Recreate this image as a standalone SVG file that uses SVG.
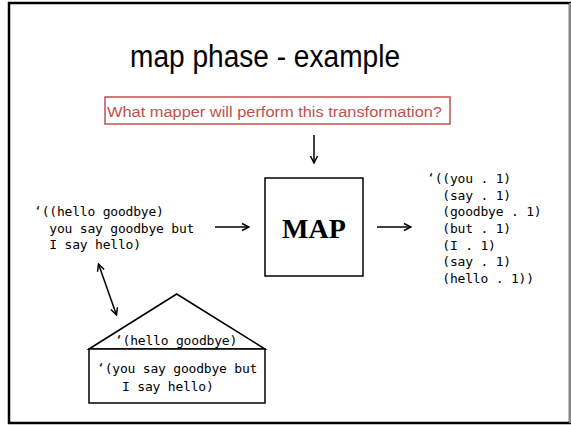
<svg xmlns="http://www.w3.org/2000/svg" width="571" height="426" viewBox="0 0 571 426">
  <style>
    .title { font-family: "Liberation Sans", Arial, sans-serif; font-size: 31px; fill: #000; }
    .note { font-family: "Liberation Sans", Arial, sans-serif; font-size: 15.5px; fill: #c0504d; }
    .code { font-family: "DejaVu Sans Mono", "Liberation Mono", monospace; font-size: 13px; letter-spacing: -0.2px; fill: #000; white-space: pre; }
    .box { fill: #fff; stroke: #000; stroke-width: 1.5; }
    .line { fill: none; stroke: #000; stroke-width: 1.5; }
    .map { font-family: "Liberation Serif", "Times New Roman", serif; font-size: 28px; font-weight: bold; fill: #000; }
  </style>
  <defs>
    <marker id="head" viewBox="0 0 10 10" refX="9" refY="5" markerWidth="10" markerHeight="10" markerUnits="userSpaceOnUse" orient="auto-start-reverse">
      <polyline points="2,1.5 9,5 2,8.5" fill="none" stroke="#000" stroke-width="1.5"/>
    </marker>
  </defs>

  <!-- slide frame -->
  <rect x="9" y="3" width="561" height="420" fill="#fff" stroke="#000" stroke-width="2.5"/>
  <line x1="570" y1="3" x2="570" y2="423" stroke="#888" stroke-width="2"/>

  <text class="title" x="130" y="67" textLength="270" lengthAdjust="spacingAndGlyphs">map phase - example</text>

  <g id="question">
    <rect x="105" y="97" width="345" height="27" fill="#fff" stroke="#c0504d" stroke-width="1.5"/>
    <text class="note" x="107" y="117" textLength="335" lengthAdjust="spacingAndGlyphs">What mapper will perform this transformation?</text>
  </g>

  <g id="map">
    <rect class="box" x="265" y="178" width="98" height="98"/>
    <text class="map" x="314" y="238" text-anchor="middle">MAP</text>
  </g>

  <g id="input">
    <text class="code" x="34" y="216">‘((hello goodbye)</text>
    <text class="code" x="34" y="233">  you say goodbye but</text>
    <text class="code" x="34" y="249">  I say hello)</text>
  </g>

  <g id="output">
    <text class="code" x="427" y="183">‘((you . 1)</text>
    <text class="code" x="427" y="199.5">  (say . 1)</text>
    <text class="code" x="427" y="216">  (goodbye . 1)</text>
    <text class="code" x="427" y="233">  (but . 1)</text>
    <text class="code" x="427" y="249.5">  (I . 1)</text>
    <text class="code" x="427" y="266">  (say . 1)</text>
    <text class="code" x="427" y="283">  (hello . 1))</text>
  </g>

  <g id="cons-cell">
    <polygon class="box" points="89,349 176.7,294 265,349"/>
    <rect class="box" x="89" y="349" width="176" height="54"/>
    <text class="code" x="176" y="345" text-anchor="middle">‘(hello goodbye)</text>
    <text class="code" x="97" y="373">‘(you say goodbye but</text>
    <text class="code" x="122" y="390.5">I say hello)</text>
  </g>

  <g id="connectors">
    <line class="line" x1="314" y1="135" x2="314" y2="163" marker-end="url(#head)"/>
    <line class="line" x1="215" y1="227" x2="249" y2="227" marker-end="url(#head)"/>
    <line class="line" x1="377" y1="227" x2="411" y2="227" marker-end="url(#head)"/>
    <line class="line" x1="98.5" y1="264" x2="116.5" y2="315" marker-start="url(#head)" marker-end="url(#head)"/>
  </g>
</svg>
